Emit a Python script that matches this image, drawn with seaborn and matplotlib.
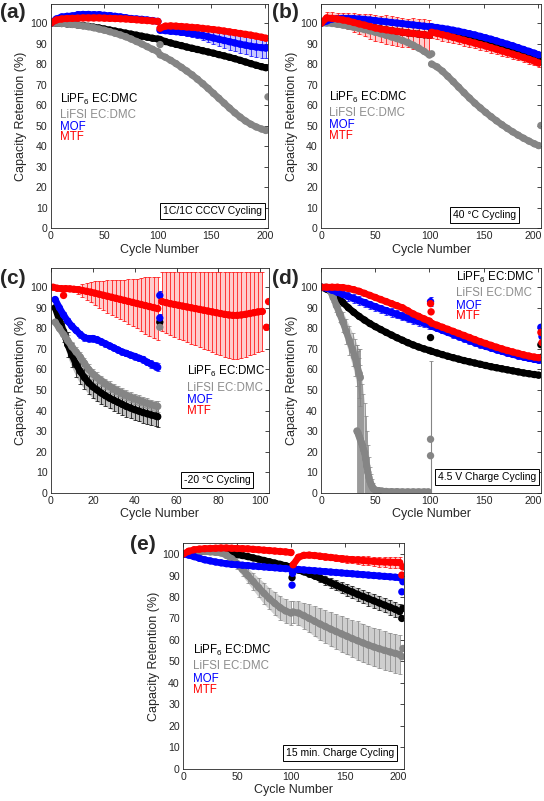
import numpy as np
import matplotlib
matplotlib.use("Agg")
import matplotlib.pyplot as plt
import matplotlib.transforms as mtransforms
import seaborn as sns

sns.set_theme(style="white")
plt.rcParams["font.family"] = ["Liberation Sans", "DejaVu Sans"]
plt.rcParams["mathtext.fontset"] = "custom"
plt.rcParams["mathtext.rm"] = "Liberation Sans"
plt.rcParams["mathtext.it"] = "Liberation Sans:italic"

# ---------------- data ----------------
LABELS = [r"LiPF$_{\mathrm{6}}$ EC:DMC", "LiFSI EC:DMC", "MOF", "MTF"]
CYC_A = [0, 5, 10, 15, 20, 25, 30, 35, 40, 45, 50, 55, 60, 65, 70, 75, 80, 85, 90, 95, 100]
CYC_B = [102, 107, 112, 117, 122, 127, 132, 137, 142, 147, 152, 157, 162, 167, 172, 177, 182, 187, 192, 197, 201]

# (a) 1C/1C CCCV cycling
A_PF6 = [100, 100, 99.8, 99.6, 99.4, 99.1, 98.8, 98.4, 98, 97.6, 97.1, 96.6, 96.1, 95.6, 95.1, 94.6, 94.1, 93.6, 93.1, 92.6, 92.2,
         92, 91, 90.3, 89.6, 89, 88.3, 87.7, 87.1, 86.5, 85.9, 85.3, 84.6, 84, 83.3, 82.6, 81.8, 81, 80.2, 79.4, 78.7, 78.2]
A_FSI = [100, 100, 99.8, 99.6, 99.3, 99, 98.6, 98.2, 97.7, 97.1, 96.5, 95.8, 95, 94.2, 93.3, 92.2, 91, 89.8, 88.5, 87.2, 86,
         84.5, 83.3, 81.8, 80.2, 78.4, 76.6, 74.7, 72.6, 70.4, 68.1, 65.7, 63.3, 60.9, 58.5, 56.2, 54.1, 52.2, 50.6, 49.3, 48.3, 47.6]
A_MOF = [100, 102, 103, 103.3, 103.5, 104, 104.2, 104.2, 104, 104, 103.8, 103.5, 103.3, 103, 102.6, 102.2, 102, 101.8, 101.5, 101.2, 100.8,
         96.5, 96.3, 96, 95.8, 95.5, 95.2, 94.8, 94.4, 93.9, 93.3, 92.7, 92.1, 91.5, 90.9, 90.3, 89.7, 89.2, 88.7, 88.3, 88, 87.8]
A_MOF_ERR = [0, 1, 1.2, 1.5, 1.5, 1.8, 1.8, 1.8, 1.8, 1.8, 1.8, 1.8, 1.8, 1.5, 1.2, 1, 0.8, 0.8, 0.8, 0.8, 0.8,
             0.8, 0.8, 1, 1, 1.2, 1.4, 1.6, 1.8, 2.2, 2.6, 3, 3.3, 3.6, 3.9, 4.1, 4.3, 4.5, 4.7, 4.8, 5, 5]
A_MTF = [100, 101.5, 102, 102.2, 102.3, 102.4, 102.5, 102.5, 102.5, 102.5, 102.4, 102.3, 102.2, 102.1, 102, 101.8, 101.6, 101.4, 101.2, 101, 100.8,
         97.5, 98.5, 98.6, 98.5, 98.3, 98.1, 97.9, 97.7, 97.4, 97.1, 96.8, 96.5, 96.1, 95.7, 95.3, 94.9, 94.5, 94.1, 93.6, 93.1, 92.6]
A_XTRA_X = [102, 203]
A_XTRA_Y = [89.5, 64]
A_XTRA_S = [1, 1]

# (b) 40 C cycling
B_PF6 = [100, 101.5, 101.5, 101.3, 101, 100.5, 100, 99.4, 98.8, 98.2, 97.6, 97.1, 96.7, 96.3, 95.9, 95.5, 95.2, 94.9, 94.6, 94.3, 94,
         96.5, 96, 95.4, 94.8, 94.2, 93.6, 93, 92.3, 91.6, 90.9, 90.2, 89.5, 88.7, 87.9, 87.1, 86.3, 85.5, 84.7, 83.9, 83.1, 82.5]
B_FSI = [100, 100, 99.8, 99.4, 99, 98.5, 98, 97.4, 96.8, 96.2, 95.5, 94.8, 94, 93.2, 92.4, 91.5, 90.5, 89.2, 87.8, 86.2, 84.4,
         80, 78.6, 76.5, 74, 71.4, 68.7, 66, 63.4, 60.9, 58.6, 56.4, 54.3, 52.3, 50.4, 48.6, 46.9, 45.3, 43.8, 42.4, 41.1, 40.2]
B_MOF = [100, 101, 102, 102.2, 102.3, 102.3, 102.2, 102, 101.8, 101.5, 101.2, 100.9, 100.6, 100.3, 100, 99.7, 99.4, 99.1, 98.8, 98.5, 98.2,
         98.2, 97.8, 97.4, 97, 96.5, 96, 95.4, 94.8, 94.2, 93.5, 92.8, 92.1, 91.3, 90.5, 89.7, 88.9, 88, 87.1, 86.2, 85.3, 84.5]
B_MOF_ERR = [0, 1, 1, 1, 1, 1, 1, 1, 1, 1, 1, 1, 1, 1, 1, 1, 1, 1, 1, 1, 1,
             1.2, 1.2, 1.2, 1.2, 1.2, 1.2, 1.2, 1.2, 1.2, 1.2, 1.2, 1.2, 1.2, 1.2, 1.2, 1.2, 1.2, 1.2, 1.2, 1.2, 1.2]
B_MTF = [100, 102.5, 102.3, 102, 101.5, 101, 100.3, 99.6, 99, 98.3, 97.6, 97.1, 96.7, 96.3, 95.9, 95.5, 95.2, 94.9, 94.6, 94.3, 94,
         95.5, 95, 94.3, 93.7, 93, 92.3, 91.6, 90.9, 90.2, 89.5, 88.8, 88, 87.2, 86.4, 85.6, 84.8, 84, 83.2, 82.3, 81.4, 80.5]
B_MTF_ERR = [0, 3, 3, 3, 3.5, 4, 4.5, 5, 5.5, 6, 6.5, 6.5, 7, 7, 7, 7, 7, 7.5, 7.5, 7.5, 7.5,
             3, 3, 3, 2.8, 2.8, 2.7, 2.6, 2.6, 2.5, 2.5, 2.4, 2.4, 2.3, 2.3, 2.2, 2.2, 2.2, 2.1, 2.1, 2, 2]
B_XTRA_X = [102, 203]
B_XTRA_Y = [85, 50]
B_XTRA_S = [1, 1]

# (c) -20 C cycling
C_CYC = [2, 4, 6, 8, 10, 12, 14, 16, 18, 20, 22, 24, 26, 28, 30, 32, 34, 36, 38, 40, 42, 44, 46, 48, 50, 51]
C_PF6 = [90, 84, 78.5, 72, 67, 62.5, 59, 56, 53.5, 51.5, 50, 48.5, 47.2, 46, 45, 44, 43, 42, 41.2, 40.4, 39.7, 39, 38.4, 37.8, 37.3, 37]
C_PF6_ERR = [0, 3, 5, 6, 6, 6, 6, 5.5, 5.5, 5.5, 5.5, 5.5, 5, 5, 5, 5, 5, 5, 5, 5, 5, 5, 5, 5, 5, 5]
C_FSI = [83, 80, 77, 74, 71, 68.5, 66, 63, 60, 57.8, 56, 54.5, 53, 51.7, 50.5, 49.4, 48.4, 47.4, 46.5, 45.7, 45, 44.2, 43.5, 42.8, 42.3, 42]
C_FSI_ERR = [0, 1.5, 2, 2.5, 2.5, 2.5, 2.5, 2.5, 2.5, 2.5, 2.5, 2.5, 2.5, 2.5, 2.5, 2.5, 2.5, 2.5, 2.5, 2.5, 2.5, 2.5, 2.5, 2.5, 2.5, 2.5]
C_MOF = [94, 90, 86.5, 83.5, 81, 79, 77, 75.5, 75, 75, 74.5, 73.5, 72.5, 71.5, 70.5, 69.5, 68.5, 67.8, 67, 66.3, 65.5, 64.8, 63.5, 62.5, 61.5, 61]
C_MOF_ERR = [0, 1, 1.5, 1.5, 1.5, 1.5, 1.5, 1.5, 1.5, 1.5, 1.5, 1.5, 1.5, 1.5, 1.5, 1.5, 1.5, 1.5, 1.5, 1.5, 1.5, 1.5, 1.5, 2, 2, 2]
C_MTF_CYC = [1, 3, 5, 7, 9, 11, 13, 15, 17, 19, 21, 23, 25, 27, 29, 31, 33, 35, 37, 39, 41, 43, 45, 47, 49, 51,
             53, 55, 57, 59, 61, 63, 65, 67, 69, 71, 73, 75, 77, 79, 81, 83, 85, 87, 89, 91, 93, 95, 97, 99, 101]
C_MTF = [100, 99.5, 99.3, 99.3, 99.2, 99, 98.8, 98.4, 98, 97.6, 97.1, 96.6, 96.1, 95.6, 95.1, 94.6, 94.1, 93.6, 93.1, 92.6, 92.1, 91.6, 91.1, 90.6, 90.1, 89.6,
         93, 92.5, 92, 91.6, 91.2, 90.8, 90.4, 90, 89.6, 89.2, 88.8, 88.4, 88, 87.6, 87.2, 86.8, 86.5, 86.3, 86.3, 86.5, 86.8, 87.2, 87.6, 88, 88.2]
C_MTF_ERR = [0, 0, 0, 0, 0, 0, 2, 3, 4, 5, 6, 6.5, 7, 8, 8.5, 9, 9.5, 10, 11, 11.5, 12, 13, 14, 14.5, 15, 15.5,
             14.5, 15, 15.5, 15.9, 16.3, 16.7, 17.1, 17.5, 17.9, 18.3, 18.7, 19.1, 19.5, 19.9, 20.3, 20.7, 21, 21.2, 21.2, 21, 20.7, 20.3, 19.9, 19.5, 19.3]
C_XTRA_X = [52, 52, 52, 52, 6, 103, 104]
C_XTRA_Y = [83, 80.5, 85, 96, 96, 80.5, 93]
C_XTRA_E = [0, 0, 2, 2, 0, 1.5, 0]
C_XTRA_S = [0, 1, 2, 2, 3, 3, 3]

# (d) 4.5 V charge cycling
D_PF6 = [100, 99, 97.5, 95, 92.5, 90, 87.8, 85.8, 84, 82.3, 80.8, 79.4, 78, 76.7, 75.4, 74.2, 73, 71.9, 70.9, 70, 69.2,
         68.8, 68, 67.2, 66.4, 65.7, 65, 64.3, 63.7, 63.1, 62.5, 61.9, 61.3, 60.8, 60.3, 59.8, 59.3, 58.8, 58.3, 57.9, 57.5, 57.2]
D_MOF = [100, 99.5, 98.5, 97.5, 96.5, 95.5, 94.5, 93.5, 92.5, 91.5, 90.5, 89.5, 88.6, 87.7, 86.8, 85.9, 85, 84.1, 83.3, 82.5, 81.7,
         81, 80, 79, 78, 77, 76, 75, 74, 73, 72.1, 71.2, 70.4, 69.6, 68.8, 68, 67.3, 66.6, 66, 65.4, 64.9, 64.5]
D_MOF_ERR = [0, 0.5, 1, 1.5, 2, 2, 2, 2, 2, 2, 2, 2, 2, 2, 2, 2, 2, 2, 2, 2, 2,
             1.5, 1.5, 1.5, 1.5, 1.5, 1.5, 1.5, 1.5, 1.5, 1.5, 1.5, 1.5, 1.5, 1.5, 1.5, 1.5, 1.5, 1.5, 1.5, 1.5, 1.5]
D_MTF = [100, 100, 100, 100, 99.8, 99.4, 98.8, 98, 97, 96, 95, 94, 93, 92, 91, 90, 88.5, 87, 85.8, 84.6, 83.5,
         82.5, 81.5, 80.5, 79.5, 78.5, 77.5, 76.5, 75.5, 74.5, 73.5, 72.6, 71.7, 70.8, 70, 69.2, 68.5, 67.8, 67.1, 66.5, 66, 65.7]
D_FSI_CYC_1 = [0, 4, 8, 11, 14, 17, 20, 23, 26, 29, 31, 33, 35, 36]
D_FSI_1 = [100, 100, 98.5, 95, 91, 87, 83, 78.5, 74, 69.5, 66, 62, 58, 56]
D_FSI_ERR_1 = [0, 0, 1, 2, 3, 4, 5, 6, 7, 8, 9, 10, 12, 14]
D_FSI_CYC_2 = [33, 34, 35, 36, 37, 38, 39, 40, 41, 42, 43, 44, 45, 46, 47, 48, 50, 53, 56, 60, 65, 70, 75, 80, 85, 90, 95, 99]
D_FSI_2 = [30, 29, 27.5, 26, 24.5, 23, 21, 19.5, 16.5, 13, 10, 7.5, 5.5, 4, 3, 2, 1.3, 1, 0.8, 0.6, 0.5, 0.5, 0.4, 0.4, 0.4, 0.4, 0.4, 0.4]
D_FSI_ERR_2 = [42, 40, 38, 36, 33, 30, 27, 24, 21, 17, 13, 10, 7, 5, 3.5, 2.5, 1.5, 1, 0.5, 0.5, 0.3, 0.3, 0.3, 0.3, 0.3, 0.3, 0.3, 0.3]
D_XTRA_X = [101, 101, 101, 203, 204, 101, 203, 204, 101, 101.5, 203, 204]
D_XTRA_Y = [26, 18, 75.5, 72, 66, 93, 80.5, 76, 92, 88, 78, 73]
D_XTRA_E = [38, 0, 0, 0, 0, 2, 0, 0, 0, 0, 0, 0]
D_XTRA_S = [1, 1, 0, 0, 0, 2, 2, 2, 3, 3, 3, 3]

# (e) 15 min charge cycling
E_PF6 = [100, 100.5, 101, 101.2, 101.3, 101.3, 101.2, 101, 100.7, 100.3, 99.8, 99.3, 98.8, 98.2, 97.6, 97, 96.4, 95.8, 95.2, 94.6, 94,
         93, 92.5, 91.7, 90.8, 89.8, 88.8, 87.7, 86.6, 85.5, 84.4, 83.3, 82.3, 81.2, 80.2, 79.2, 78.2, 77.2, 76.2, 75.2, 74.2, 73.2]
E_PF6_ERR = [0, 0, 0, 0, 0.3, 0.3, 0.5, 0.5, 0.5, 0.6, 0.7, 0.8, 0.9, 1, 1, 1, 1, 1, 1, 1, 1,
             1, 1, 1.2, 1.4, 1.6, 1.8, 2, 2.2, 2.4, 2.6, 2.8, 2.9, 3, 3.1, 3.2, 3.3, 3.4, 3.4, 3.5, 3.5, 3.5]
E_FSI = [100, 100.5, 101, 101.2, 101.2, 101, 100.8, 100.5, 99.5, 97.8, 95.5, 92.8, 90, 87.2, 84.4, 81.7, 79.2, 77, 75, 73.5, 72.5,
         73, 72.5, 71.3, 70, 68.7, 67.4, 66.2, 65, 63.9, 62.8, 61.7, 60.6, 59.6, 58.6, 57.6, 56.7, 55.9, 55.1, 54.4, 53.7, 53.2]
E_FSI_ERR = [0, 0, 0, 0, 0.5, 0.5, 1, 1, 1.5, 2, 2.5, 3, 3.5, 4, 4.5, 5, 5, 5.5, 5.5, 5.5, 5.5,
             5, 5.5, 6, 6.5, 7, 7.5, 7.5, 8, 8, 8.5, 8.5, 8.5, 9, 9, 9, 9, 9, 9, 9, 9, 9]
E_MOF = [100, 99.5, 98.8, 98, 97.3, 96.8, 96.3, 95.9, 95.5, 95.2, 95, 94.8, 94.6, 94.4, 94.2, 94, 93.8, 93.6, 93.4, 93.2, 93,
         93, 92.8, 92.6, 92.4, 92.2, 92, 91.8, 91.6, 91.4, 91.2, 91, 90.8, 90.6, 90.4, 90.2, 90, 89.8, 89.6, 89.4, 89.2, 89]
E_MTF = [100, 101.3, 102, 102.3, 102.5, 102.6, 102.7, 102.8, 102.8, 102.7, 102.6, 102.5, 102.4, 102.2, 102, 101.8, 101.6, 101.4, 101.2, 101, 100.7,
         95, 98.5, 99.4, 99.5, 99.3, 99, 98.7, 98.4, 98.1, 97.8, 97.6, 97.4, 97.2, 97, 96.8, 96.6, 96.4, 96.3, 96.2, 96.1, 96]
E_MTF_ERR = [0, 0.3, 0.5, 0.5, 0.5, 0.5, 0.5, 0.5, 0.5, 0.5, 0.5, 0.5, 0.5, 0.5, 0.5, 0.5, 0.5, 0.5, 0.5, 0.5, 0.5,
             1, 1, 1, 1, 1, 1.2, 1.3, 1.4, 1.5, 1.6, 1.7, 1.8, 1.9, 2, 2.1, 2.2, 2.3, 2.4, 2.5, 2.6, 2.6]
E_XTRA_X = [203, 204, 101, 203, 204, 101, 101.5, 203, 204, 203, 204]
E_XTRA_Y = [52.2, 56, 89, 70, 74.7, 85.5, 91, 82.4, 87.1, 90.2, 94]
E_XTRA_S = [1, 1, 0, 0, 0, 2, 2, 2, 2, 3, 3]

# ---------------- style ----------------
COLORS = ["#000000", "#858585", "#0000ff", "#ff0000"]
TXT_COLORS = ["#000000", "#8c8c8c", "#0000ff", "#ff0000"]
FILL_ALPHA = [0.25, 0.4, 0.22, 0.2]
SPINE = "#262626"
W, H = 544, 801
MS = 28      # marker area (pt^2)
LW = 4.8     # band width (pt) joining the dense markers

fig = plt.figure(figsize=(W / 100, H / 100), dpi=100)


def make_ax(l, t, r, b):
    return fig.add_axes([l / W, 1 - b / H, (r - l) / W, (b - t) / H])


def draw(ax, x, y, err, si, split=None):
    c = COLORS[si]
    x = np.asarray(x, float)
    y = np.asarray(y, float)
    segs = [slice(0, split), slice(split, None)] if split else [slice(None)]
    if err is not None:
        e = np.asarray(err, float)
        for s in segs:
            ax.fill_between(x[s], y[s] - e[s], y[s] + e[s], color=c, alpha=FILL_ALPHA[si],
                            lw=0, zorder=1 + si * 0.1)
        ax.errorbar(x, y, yerr=e, fmt="none", ecolor=c, elinewidth=0.6, capsize=1.2,
                    capthick=0.6, alpha=0.85, zorder=1.05 + si * 0.1)
    for s in segs:
        sns.lineplot(x=x[s], y=y[s], color=c, lw=LW, sort=False, estimator=None,
                     ax=ax, legend=False, zorder=3 + si * 0.5, solid_capstyle="round")
    sns.scatterplot(x=x, y=y, color=c, s=MS, edgecolor="none", linewidth=0,
                    ax=ax, legend=False, zorder=3.1 + si * 0.5)


def extras(ax, xs, ys, ss, es=None):
    if es is None:
        es = [0] * len(xs)
    for x, y, s, e in zip(xs, ys, ss, es):
        if e > 0:
            ax.errorbar([x], [y], yerr=[e], fmt="none", ecolor=COLORS[s], elinewidth=0.8,
                        capsize=1.5, capthick=0.6, zorder=2.5)
        sns.scatterplot(x=[x], y=[y], color=COLORS[s], s=MS, edgecolor="none",
                        linewidth=0, ax=ax, legend=False, zorder=3.2 + s * 0.5)


def style(ax, xmax, ymax, xticks, panel, pxy, legend_xy, legend_ys, note, note_xy,
          nudge_last=False):
    ax.set_xlim(0, xmax)
    ax.set_ylim(0, ymax)
    ax.set_xticks(xticks)
    ax.set_yticks(range(0, 101, 10))
    ax.tick_params(direction="in", top=True, right=True, length=3, width=0.6,
                   labelsize=7.6, pad=2.5, colors=SPINE, labelcolor=SPINE)
    for sp in ax.spines.values():
        sp.set_color(SPINE)
        sp.set_linewidth(0.6)
        sp.set_zorder(10)
    if nudge_last:
        lab = ax.get_xticklabels()[-1]
        lab.set_transform(lab.get_transform() +
                          mtransforms.ScaledTranslation(-4 / 100, 0, fig.dpi_scale_trans))
    ax.set_xlabel("Cycle Number", fontsize=9, color=SPINE, labelpad=1.5)
    ax.set_ylabel("Capacity Retention (%)", fontsize=9, color=SPINE, labelpad=2)
    for lab, col, yy in zip(LABELS, TXT_COLORS, legend_ys):
        ax.text(legend_xy, yy, lab, transform=ax.transAxes, color=col, fontsize=8.3,
                va="baseline", ha="left", zorder=12)
    ax.text(note_xy[0], note_xy[1], note, transform=ax.transAxes, fontsize=7.5, color="#000000",
            ha="right", va="center", zorder=12,
            bbox=dict(boxstyle="square,pad=0.28", fc="white", ec="#000000", lw=0.7))
    fig.text(pxy[0] / W, 1 - pxy[1] / H, panel, fontsize=15, fontweight="bold",
             ha="left", va="center")


XT = [0, 50, 100, 150, 200]

# (a)
ax = make_ax(51, 4, 268, 228)
draw(ax, CYC_A + CYC_B, A_FSI, None, 1, split=21)
draw(ax, CYC_A + CYC_B, A_PF6, None, 0, split=21)
draw(ax, CYC_A + CYC_B, A_MOF, A_MOF_ERR, 2, split=21)
draw(ax, CYC_A + CYC_B, A_MTF, None, 3, split=21)
extras(ax, A_XTRA_X, A_XTRA_Y, A_XTRA_S)
style(ax, 203, 109.3, XT, "(a)", (0, 13), 0.041, [0.559, 0.490, 0.438, 0.391],
      "1C/1C CCCV Cycling", (0.972, 0.077))

# (b)
ax = make_ax(321.3, 4, 541.3, 228)
draw(ax, CYC_A + CYC_B, B_FSI, None, 1, split=21)
draw(ax, CYC_A + CYC_B, B_PF6, None, 0, split=21)
draw(ax, CYC_A + CYC_B, B_MOF, B_MOF_ERR, 2, split=21)
draw(ax, CYC_A + CYC_B, B_MTF, B_MTF_ERR, 3, split=21)
extras(ax, B_XTRA_X, B_XTRA_Y, B_XTRA_S)
style(ax, 203.4, 109.3, XT, "(b)", (272, 13), 0.035, [0.568, 0.501, 0.445, 0.396],
      "40 °C Cycling", (0.885, 0.058), nudge_last=True)

# (c)
ax = make_ax(51, 268.3, 269, 492.7)
draw(ax, C_MTF_CYC, C_MTF, C_MTF_ERR, 3, split=26)
draw(ax, C_CYC, C_FSI, C_FSI_ERR, 1)
draw(ax, C_CYC, C_PF6, C_PF6_ERR, 0)
draw(ax, C_CYC, C_MOF, C_MOF_ERR, 2)
extras(ax, C_XTRA_X, C_XTRA_Y, C_XTRA_S, C_XTRA_E)
style(ax, 104.2, 109.2, [0, 20, 40, 60, 80, 100], "(c)", (0, 278), 0.622,
      [0.524, 0.453, 0.398, 0.349], "-20 °C Cycling", (0.915, 0.056))

# (d)
ax = make_ax(321.3, 268.3, 541.3, 492.7)
draw(ax, D_FSI_CYC_1, D_FSI_1, D_FSI_ERR_1, 1)
draw(ax, D_FSI_CYC_2, D_FSI_2, D_FSI_ERR_2, 1)
draw(ax, CYC_A + CYC_B, D_PF6, None, 0, split=21)
draw(ax, CYC_A + CYC_B, D_MOF, D_MOF_ERR, 2, split=21)
draw(ax, CYC_A + CYC_B, D_MTF, None, 3, split=21)
extras(ax, D_XTRA_X, D_XTRA_Y, D_XTRA_S, D_XTRA_E)
style(ax, 203.4, 109.2, XT, "(d)", (272, 279), 0.612,
      [0.945, 0.875, 0.819, 0.772], "4.5 V Charge Cycling", (0.975, 0.071), nudge_last=True)

# (e)
ax = make_ax(183.3, 543.3, 404, 768.7)
draw(ax, CYC_A + CYC_B, E_FSI, E_FSI_ERR, 1, split=21)
draw(ax, CYC_A + CYC_B, E_PF6, E_PF6_ERR, 0, split=21)
draw(ax, CYC_A + CYC_B, E_MOF, None, 2, split=21)
draw(ax, CYC_A + CYC_B, E_MTF, E_MTF_ERR, 3, split=21)
extras(ax, E_XTRA_X, E_XTRA_Y, E_XTRA_S)
style(ax, 205, 105, XT, "(e)", (130, 545), 0.045,
      [0.509, 0.441, 0.386, 0.334], "15 min. Charge Cycling", (0.955, 0.068))

fig.savefig("out.png", dpi=100, facecolor="white")
